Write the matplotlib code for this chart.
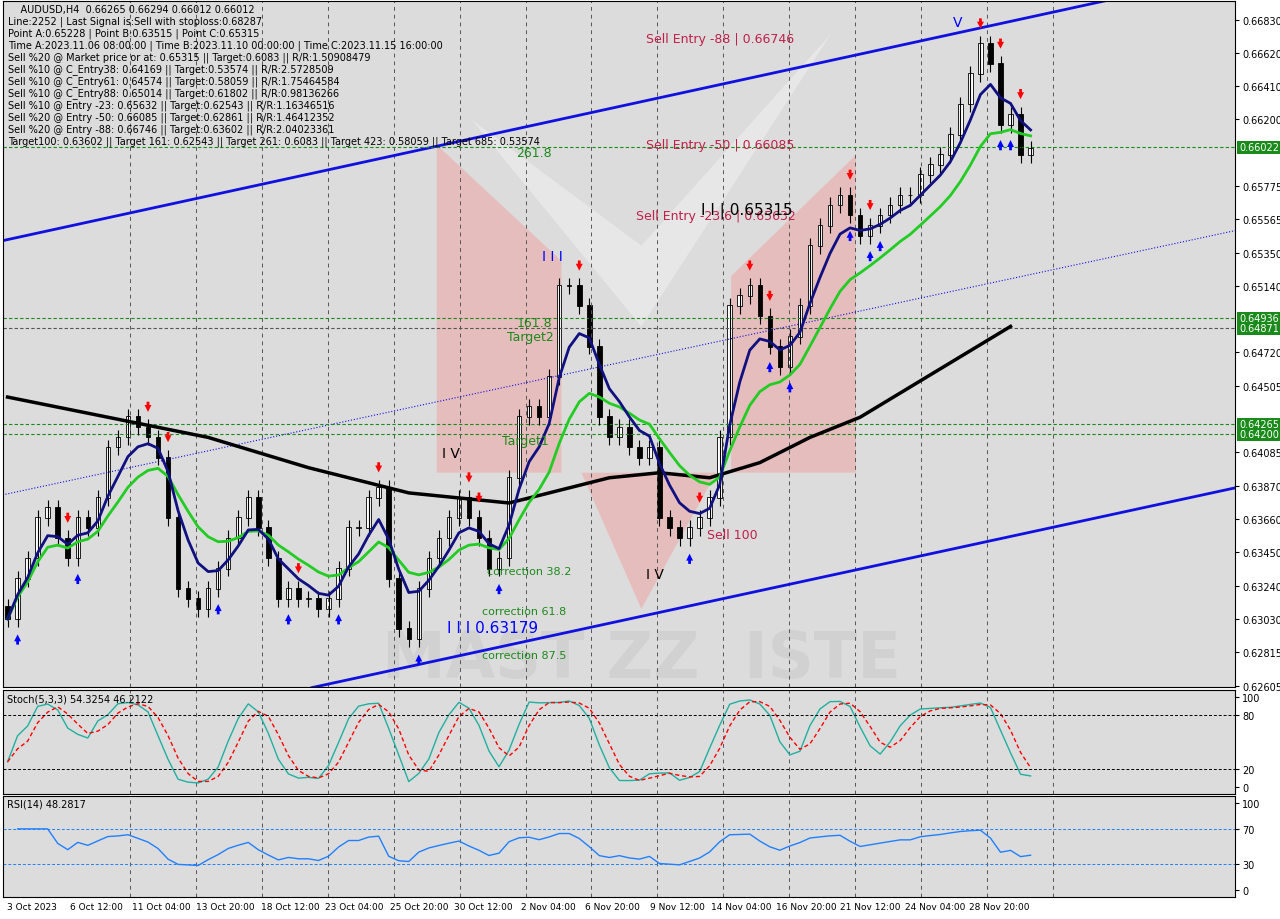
import numpy as np
import pandas as pd
import matplotlib
matplotlib.use('Agg')
import matplotlib.pyplot as plt
from matplotlib.patches import Polygon

# price conversion for values (pixel row -> price)
def px2p(y):
    return 0.66830 - (y - 26) * (0.04225 / 660.0)

close_px = [620, 580, 560, 520, 510, 540, 560, 520, 530, 500, 450, 440, 420, 430, 440, 460,
            520, 590, 600, 610, 590, 570, 540, 520, 500, 530, 560, 600, 590, 600, 600, 610,
            600, 570, 530, 530, 500, 490, 580, 630, 640, 590, 560, 540, 520, 500, 520, 540,
            570, 560, 480, 420, 410, 420, 380, 290, 290, 310, 350, 420, 440, 430, 450, 460,
            450, 520, 530, 540, 530, 520, 500, 440, 310, 300, 290, 320, 350, 370, 340, 310,
            250, 230, 210, 200, 220, 240, 230, 220, 210, 200, 200, 180, 170, 160, 140, 110,
            80, 50, 70, 130, 120, 160, 150]
close = np.array([px2p(y) for y in close_px])
close[-1] = 0.66012

black_x = [0, 10, 20, 30, 40, 50, 60, 65, 70, 75, 80, 85, 90, 95, 100]
black_px = [400, 420, 440, 470, 495, 505, 480, 475, 480, 465, 440, 420, 390, 360, 330]

hlines_green = [0.66022, 0.64936, 0.64265, 0.64200]
hline_gray = [0.64871]
price_ticks = [0.66830, 0.66620, 0.66410, 0.66200, 0.65775, 0.65565, 0.65350, 0.65140,
               0.64720, 0.64505, 0.64085, 0.63870, 0.63660, 0.63450, 0.63240, 0.63030,
               0.62815, 0.62605]
date_labels = ['3 Oct 2023', '6 Oct 12:00', '11 Oct 04:00', '13 Oct 20:00', '18 Oct 12:00',
               '23 Oct 04:00', '25 Oct 20:00', '30 Oct 12:00', '2 Nov 04:00', '6 Nov 20:00',
               '9 Nov 12:00', '14 Nov 04:00', '16 Nov 20:00', '21 Nov 12:00', '24 Nov 04:00',
               '28 Nov 20:00']
red_arrows_i = [6, 14, 16, 29, 37, 46, 47, 57, 69, 74, 76, 84, 86, 97, 99, 101]
blue_arrows_i = [1, 7, 21, 28, 33, 41, 49, 68, 76, 78, 84, 86, 87, 99, 100]

n = len(close)
idx = np.arange(n)
opens = np.r_[close[0] + 0.0008, close[:-1]]
s = pd.Series(close)
ma_blue = s.ewm(span=5).mean()
ma_green = s.ewm(span=12).mean()

# stochastic / rsi from the close series
hi = np.maximum(opens, close) + 0.0005
lo = np.minimum(opens, close) - 0.0005
hh = pd.Series(hi).rolling(5, min_periods=1).max()
ll = pd.Series(lo).rolling(5, min_periods=1).min()
k = (100 * (s - ll) / (hh - ll)).rolling(3, min_periods=1).mean()
d = k.rolling(3, min_periods=1).mean()
delta = s.diff().fillna(0)
up = delta.clip(lower=0).ewm(alpha=1/5).mean()
dn = (-delta.clip(upper=0)).ewm(alpha=1/5).mean()
rsi = 100 - 100 / (1 + up / (dn + 1e-9))
rsi = 45 + (rsi - 50) * 0.5

fig = plt.figure(figsize=(12.8, 9.2), dpi=100)
fig.patch.set_facecolor('white')
L, W = 0.002, 0.963
ax = fig.add_axes([L, 0.252, W, 0.746])
ax2 = fig.add_axes([L, 0.136, W, 0.113])
ax3 = fig.add_axes([L, 0.024, W, 0.110])
xmin, xmax = -0.5, 122.4
ymin, ymax = 0.62595, 0.66950

def px2x(x):
    return xmin + x / 1235.0 * (xmax - xmin)

for a in (ax, ax2, ax3):
    a.set_xlim(xmin, xmax)
    a.set_facecolor('#dcdcdc')
    a.yaxis.tick_right()
    a.tick_params(axis='y', labelsize=7, length=3, pad=2)
    a.set_xticks([])
    for sp in a.spines.values():
        sp.set_color('black')
        sp.set_linewidth(0.8)
    for g in range(15):
        a.axvline(px2x(128 + 66 * g), color='#555555', ls=(0, (4, 4)), lw=0.7)

ax.set_ylim(ymin, ymax)
# watermark shapes
ax.add_patch(Polygon([(px2x(435), px2p(150)), (px2x(560), px2p(265)), (px2x(560), px2p(475)),
                      (px2x(435), px2p(475))], closed=True, color='#f0a0a0', alpha=0.5, lw=0))
ax.add_patch(Polygon([(px2x(730), px2p(280)), (px2x(855), px2p(160)), (px2x(855), px2p(475)),
                      (px2x(730), px2p(475))], closed=True, color='#f0a0a0', alpha=0.5, lw=0))
ax.add_patch(Polygon([(px2x(580), px2p(475)), (px2x(715), px2p(475)), (px2x(640), px2p(610))],
                     closed=True, color='#f0a0a0', alpha=0.5, lw=0))
ax.add_patch(Polygon([(px2x(470), px2p(125)), (px2x(640), px2p(330)), (px2x(830), px2p(40)),
                      (px2x(640), px2p(250))], closed=True, color='#f0f0f0', alpha=0.6, lw=0))
ax.text(px2x(640), px2p(660), 'MAST ZZ  ISTE', fontsize=46, color='#c4c4c4', alpha=0.45,
        ha='center', va='center', fontweight='bold', zorder=0)

# channel
ax.plot([px2x(0), px2x(1115)], [px2p(245), px2p(5)], color='#1010e0', lw=2)
ax.plot([px2x(310), px2x(1235)], [px2p(688), px2p(490)], color='#1010e0', lw=2)
ax.plot([px2x(0), px2x(1235)], [px2p(497), px2p(235)], color='#1010e0', lw=0.8, ls=':')
for h in hlines_green:
    ax.axhline(h, color='#1a8a1a', ls=(0, (3, 2)), lw=0.8)
for h in hline_gray:
    ax.axhline(h, color='#555555', ls=(0, (3, 2)), lw=0.8)

# candles
for i in idx:
    c = 'white' if close[i] >= opens[i] else 'black'
    ax.vlines(i, lo[i], hi[i], color='black', lw=0.8)
    ax.bar(i, abs(close[i] - opens[i]) + 0.00005, bottom=min(opens[i], close[i]),
           width=0.45, color=c, edgecolor='black', lw=0.6)

ax.plot(black_x, [px2p(y) for y in black_px], color='black', lw=2.5)
ax.plot(idx, ma_green, color='#22cc22', lw=2)
ax.plot(idx, ma_blue, color='#101080', lw=2)

for i in red_arrows_i:
    ax.annotate('', xy=(i, hi[i] + 0.0003), xytext=(i, hi[i] + 0.0013),
                arrowprops=dict(arrowstyle='simple', color='red', lw=0))
for i in blue_arrows_i:
    ax.annotate('', xy=(i, lo[i] - 0.0003), xytext=(i, lo[i] - 0.0013),
                arrowprops=dict(arrowstyle='simple', color='blue', lw=0))

txts = [(645, 45, 'Sell Entry -88 | 0.66746', '#c0204a', 9),
        (645, 150, 'Sell Entry -50 | 0.66085', '#c0204a', 9),
        (635, 220, 'Sell Entry -23.6 | 0.65632', '#c0204a', 9),
        (700, 215, 'I I | 0.65315', 'black', 11),
        (515, 158, '261.8', '#1a8a1a', 9), (515, 326, '161.8', '#1a8a1a', 9),
        (505, 340, 'Target2', '#1a8a1a', 9), (500, 443, 'Target1', '#1a8a1a', 9),
        (440, 455, 'I V', 'black', 10), (540, 260, 'I I I', 'blue', 10),
        (485, 572, 'correction 38.2', '#1a8a1a', 8), (480, 612, 'correction 61.8', '#1a8a1a', 8),
        (445, 628, 'I I I 0.63179', 'blue', 11), (480, 656, 'correction 87.5', '#1a8a1a', 8),
        (706, 536, 'Sell 100', '#c0204a', 9), (645, 575, 'I V', 'black', 10),
        (952, 28, 'V', 'blue', 10)]
for x, y, t, c, fs in txts:
    ax.text(px2x(x), px2p(y), t, color=c, fontsize=fs, va='center')

header = ['    AUDUSD,H4  0.66265 0.66294 0.66012 0.66012',
          'Line:2252 | Last Signal is:Sell with stoploss:0.68287',
          'Point A:0.65228 | Point B:0.63515 | Point C:0.65315',
          'Time A:2023.11.06 08:00:00 | Time B:2023.11.10 00:00:00 | Time C:2023.11.15 16:00:00',
          'Sell %20 @ Market price or at: 0.65315 || Target:0.6083 || R/R:1.50908479',
          'Sell %10 @ C_Entry38: 0.64169 || Target:0.53574 || R/R:2.5728509',
          'Sell %10 @ C_Entry61: 0.64574 || Target:0.58059 || R/R:1.75464584',
          'Sell %10 @ C_Entry88: 0.65014 || Target:0.61802 || R/R:0.98136266',
          'Sell %10 @ Entry -23: 0.65632 || Target:0.62543 || R/R:1.16346516',
          'Sell %20 @ Entry -50: 0.66085 || Target:0.62861 || R/R:1.46412352',
          'Sell %20 @ Entry -88: 0.66746 || Target:0.63602 || R/R:2.04023361',
          'Target100: 0.63602 || Target 161: 0.62543 || Target 261: 0.6083 || Target 423: 0.58059 || Target 685: 0.53574']
for j, t in enumerate(header):
    fig.text(0.006, 1 - (10 + 12 * j) / 920, t, fontsize=7, va='center', color='black')

ax.set_yticks(price_ticks)
ax.set_yticklabels(['%.5f' % p for p in price_ticks])
for p in [0.66022, 0.64936, 0.64871, 0.64265, 0.64200]:
    ax.text(1.003, (p - ymin) / (ymax - ymin), '%.5f' % p, transform=ax.transAxes, fontsize=7,
            color='white', va='center', bbox=dict(boxstyle='square,pad=0.15', fc='#1a8a1a', ec='none'))

# stochastic
ax2.set_ylim(-8, 108)
ax2.plot(idx, k, color='#20b0a0', lw=1)
ax2.plot(idx, d, color='red', lw=1, ls=(0, (3, 2)))
for lvl in (80, 20):
    ax2.axhline(lvl, color='black', ls=(0, (3, 2)), lw=0.7)
ax2.set_yticks([100, 80, 20, 0])
ax2.text(0.004, 0.92, 'Stoch(5,3,3) 54.3254 46.2122', transform=ax2.transAxes, fontsize=7, va='center')

# rsi
ax3.set_ylim(-8, 108)
ax3.plot(idx[1:], rsi[1:], color='#2080ff', lw=1)
for lvl in (70, 30):
    ax3.axhline(lvl, color='#2080ff', ls=(0, (3, 2)), lw=0.7)
ax3.set_yticks([100, 70, 30, 0])
ax3.text(0.004, 0.92, 'RSI(14) 48.2817', transform=ax3.transAxes, fontsize=7, va='center')

for g, lab in enumerate(date_labels):
    fig.text((32 + 64.5 * g) / 1280, 1 - 908 / 920, lab, fontsize=6.5, ha='center', va='center')

fig.savefig('out.png', dpi=100)
